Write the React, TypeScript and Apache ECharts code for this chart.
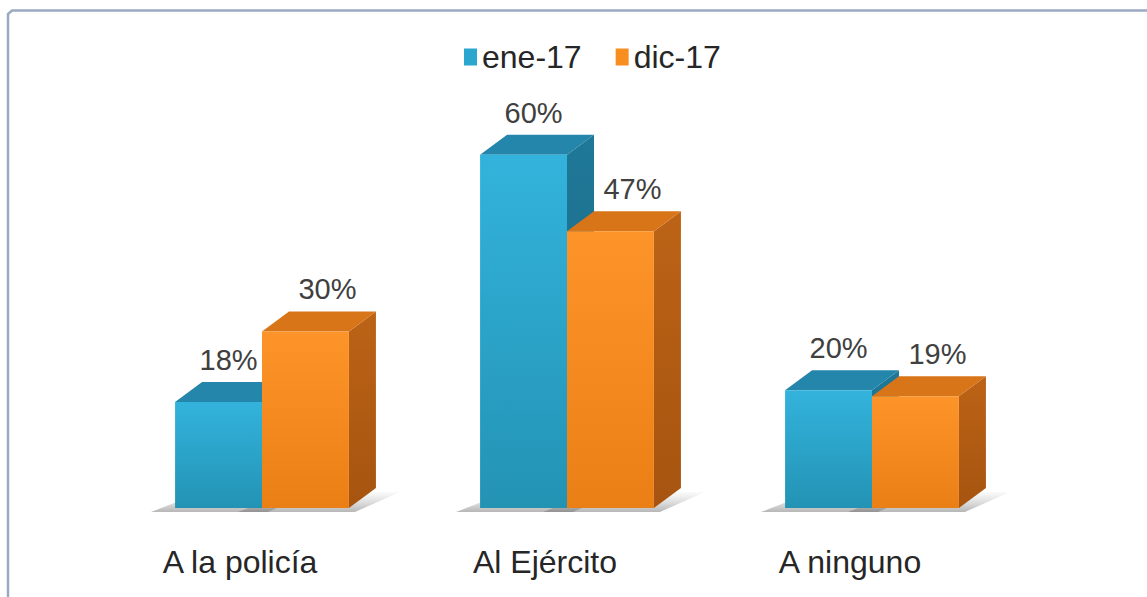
import React, { useEffect, useRef } from "react";
import * as echarts from "echarts";

const categories = ["A la policía", "Al Ejército", "A ninguno"];
const seriesNames = ["ene-17", "dic-17"];
const ene17 = [18, 60, 20];
const dic17 = [30, 47, 19];

const FONT = "'Liberation Sans', Arial, sans-serif";
const DX = 27;
const DY = 20;

const palettes = [
  {
    frontTop: "#33B3DC",
    frontBottom: "#2393B4",
    top: "#2586AB",
    sideTop: "#1F7898",
    sideBottom: "#1A6580",
    legend: "#2BA6CF",
    labelShift: 10,
  },
  {
    frontTop: "#FD9429",
    frontBottom: "#EA7F16",
    top: "#D87519",
    sideTop: "#BC6316",
    sideBottom: "#A65410",
    legend: "#F98E20",
    labelShift: 22,
  },
];

function makeRender(idx: number) {
  const p = palettes[idx];
  return (params: any, api: any) => {
    const cat = api.value(0);
    const val = api.value(1);
    const top = api.coord([cat, val]);
    const base = api.coord([cat, 0]);
    const band = api.size([1, 0])[0];
    const w = band * 0.285;
    const x0 = top[0] + (idx === 0 ? -w : 0);
    const x1 = x0 + w;
    const yT = top[1];
    const yB = base[1];
    return {
      type: "group",
      children: [
        {
          type: "polygon",
          z2: -5,
          shape: {
            points: [
              [x0 - 24, yB + 4],
              [x1 + 6, yB + 4],
              [x1 + DX + 24, yB - DY + 4],
              [x0 + DX, yB - DY + 4],
            ],
          },
          style: {
            fill: new echarts.graphic.LinearGradient(0, 1, 0, 0, [
              { offset: 0, color: "rgba(110,110,110,0.5)" },
              { offset: 1, color: "rgba(160,160,160,0.05)" },
            ]),
          },
        },
        {
          type: "polygon",
          shape: {
            points: [
              [x1, yT],
              [x1 + DX, yT - DY],
              [x1 + DX, yB - DY],
              [x1, yB],
            ],
          },
          style: {
            fill: new echarts.graphic.LinearGradient(0, 0, 0, 1, [
              { offset: 0, color: p.sideTop },
              { offset: 1, color: p.sideBottom },
            ]),
          },
        },
        {
          type: "polygon",
          shape: {
            points: [
              [x0, yT],
              [x0 + DX, yT - DY],
              [x1 + DX, yT - DY],
              [x1, yT],
            ],
          },
          style: { fill: p.top },
        },
        {
          type: "rect",
          shape: { x: x0, y: yT, width: w, height: yB - yT },
          style: {
            fill: new echarts.graphic.LinearGradient(0, 0, 0, 1, [
              { offset: 0, color: p.frontTop },
              { offset: 1, color: p.frontBottom },
            ]),
          },
        },
        {
          type: "text",
          style: {
            text: val + "%",
            x: x0 + w / 2 + p.labelShift,
            y: yT - 42,
            align: "center",
            verticalAlign: "middle",
            fill: "#404040",
            font: `29px ${FONT}`,
          },
        },
      ],
    };
  };
}

export default function App() {
  const ref = useRef<HTMLDivElement>(null);
  useEffect(() => {
    if (!ref.current) return;
    const chart = echarts.init(ref.current, null, { renderer: "svg" });
    const seriesData = [ene17, dic17];
    chart.setOption({
      animation: false,
      backgroundColor: "#ffffff",
      legend: {
        data: seriesNames.map((n, i) => ({
          name: n,
          icon: "rect",
          itemStyle: { color: palettes[i].legend },
        })),
        left: 459,
        top: 36,
        itemWidth: 13,
        itemHeight: 17,
        itemGap: 34,
        textStyle: { fontFamily: FONT, fontSize: 32, color: "#262626" },
      },
      grid: { left: 109.5, right: 122.5, top: 96, bottom: 89 },
      xAxis: {
        type: "category",
        data: categories,
        axisLine: { show: false },
        axisTick: { show: false },
        axisLabel: {
          margin: 38,
          fontFamily: FONT,
          fontSize: 32,
          color: "#262626",
          padding: [0, 44, 0, 0],
        },
      },
      yAxis: {
        type: "value",
        min: 0,
        max: 70,
        show: false,
        splitLine: { show: false },
      },
      graphic: [
        {
          type: "polyline",
          shape: { points: [[8, 597], [8, 14], [12, 10.5], [1147, 10.5]] },
          style: { stroke: "#9AAAC2", lineWidth: 2.5, fill: "none" },
        },
      ],
      series: seriesNames.map((n, i) => ({
        type: "custom",
        name: n,
        itemStyle: { color: palettes[i].legend },
        renderItem: makeRender(i),
        encode: { x: 0, y: 1 },
        data: seriesData[i].map((v, j) => [j, v]),
      })),
    });
    return () => chart.dispose();
  }, []);
  return (
    <div
      ref={ref}
      style={{ position: "fixed", left: 0, top: 0, width: 1147, height: 597 }}
    />
  );
}
